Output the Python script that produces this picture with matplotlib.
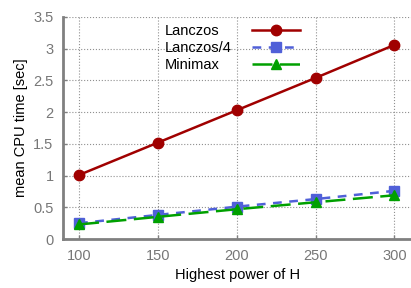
import matplotlib
matplotlib.use("Agg")
import matplotlib.pyplot as plt
from matplotlib.lines import Line2D

plt.rcParams['font.family'] = ['Liberation Sans', 'DejaVu Sans']

# data
powers = [100, 150, 200, 250, 300]
lanczos = [1.01, 1.52, 2.03, 2.54, 3.06]
lanczos4 = [0.25, 0.38, 0.51, 0.63, 0.76]
minimax = [0.23, 0.35, 0.47, 0.58, 0.69]
yticks = [0, 0.5, 1, 1.5, 2, 2.5, 3, 3.5]
ytick_labels = ['0', '0.5', '1', '1.5', '2', '2.5', '3', '3.5']
names = ['Lanczos', 'Lanczos/4', 'Minimax']

fig = plt.figure(figsize=(4.11, 2.88), dpi=100)
ax = fig.add_axes([0.154, 0.170, 0.846, 0.771])

l1, = ax.plot(powers, lanczos, color='#a00000', lw=1.8, marker='o', ms=7.5,
              label=names[0], zorder=3)
l2, = ax.plot(powers, lanczos4, color='#5060d8', lw=1.8, ls=(0, (3.5, 3)), marker='s', ms=7.5,
              label=names[1], zorder=3)
l3, = ax.plot(powers, minimax, color='#00a000', lw=1.8, ls=(0, (8, 3)), marker='^', ms=7.5,
              label=names[2], zorder=4)

ax.set_xlim(90, 310.5)
ax.set_ylim(0, 3.5)
ax.set_xticks(powers)
ax.set_yticks(yticks)
ax.set_yticklabels(ytick_labels)

ax.grid(True, ls=':', color='#909090', lw=0.8)
for side in ['top', 'right']:
    ax.spines[side].set_visible(False)
for side in ['left', 'bottom']:
    ax.spines[side].set_color('#808080')
    ax.spines[side].set_linewidth(2)
ax.tick_params(direction='in', length=3, width=1, colors='#808080',
               labelsize=10.5, labelcolor='#777777', pad=7)

ax.set_xlabel('Highest power of H', fontsize=10.5)
ax.set_ylabel('mean CPU time [sec]', fontsize=10.5)

# gnuplot-style key: left aligned labels, samples in a column to the right
blank = [Line2D([], [], alpha=0) for _ in names]
leg_txt = ax.legend(blank, names, loc='upper left', bbox_to_anchor=(0.401, 0.917),
                    bbox_transform=fig.transFigure, frameon=False, fontsize=10.5,
                    handlelength=0, handletextpad=0, labelspacing=0.21,
                    borderpad=0, borderaxespad=0)
ax.add_artist(leg_txt)
ax.legend([l1, l2, l3], ['', '', ''], loc='upper left', bbox_to_anchor=(0.614, 0.917),
          bbox_transform=fig.transFigure, frameon=False, fontsize=10.5,
          handlelength=3.3, handletextpad=0, labelspacing=0.21,
          borderpad=0, borderaxespad=0)

fig.savefig('out.png', dpi=100)
